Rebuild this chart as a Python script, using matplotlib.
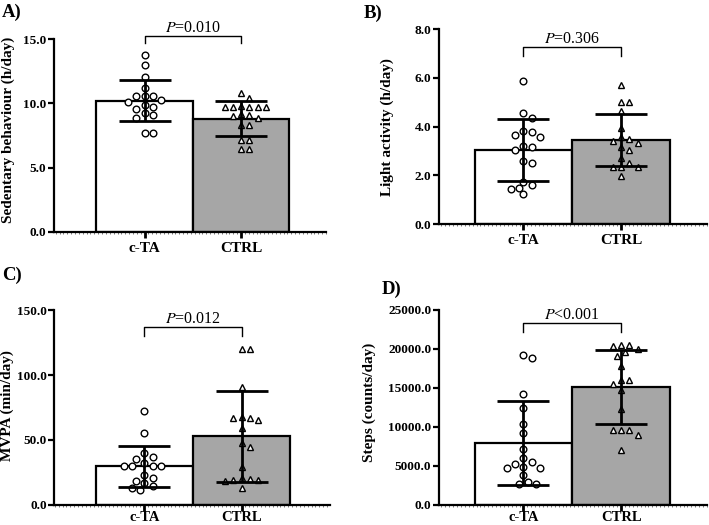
import numpy as np
import matplotlib
matplotlib.use("Agg")
import matplotlib.pyplot as plt
from matplotlib.ticker import MultipleLocator, FormatStrFormatter

plt.rcParams['font.family'] = ['Liberation Serif', 'DejaVu Serif']
plt.rcParams['mathtext.fontset'] = 'stix'

categories = ["c-TA", "CTRL"]

# Panel A: Sedentary behaviour (h/day)
a_cta = [13.73, 12.95, 12.02, 11.21, 10.59, 10.59, 10.59, 10.26, 10.13, 9.87, 9.74,
         9.56, 9.27, 9.09, 8.83, 7.67, 7.67]
a_ctrl = [10.82, 10.44, 9.79, 9.72, 9.72, 9.72, 9.72, 9.70, 9.20, 9.10, 9.05, 8.85,
          8.30, 8.30, 7.18, 7.18, 6.42, 6.42]
a_mean = [10.22, 8.81]
a_sd = [1.60, 1.35]

# Panel B: Light activity (h/day)
b_cta = [5.88, 4.55, 4.34, 3.81, 3.77, 3.66, 3.56, 3.22, 3.15, 3.04, 2.59, 2.49,
         1.74, 1.60, 1.49, 1.45, 1.23]
b_ctrl = [5.71, 5.00, 5.00, 4.64, 3.96, 3.59, 3.48, 3.42, 3.34, 3.18, 3.04, 2.73,
          2.52, 2.36, 2.36, 2.36, 1.97]
b_mean = [3.04, 3.46]
b_sd = [1.27, 1.08]

# Panel C: MVPA (min/day)
c_cta = [72.1, 55.3, 39.6, 37.0, 35.5, 31.9, 30.0, 29.5, 29.5, 30.0, 22.7, 20.4,
         18.5, 16.5, 14.4, 13.1, 11.1]
c_ctrl = [120.4, 120.4, 90.6, 68.0, 67.0, 67.0, 65.6, 59.0, 47.4, 44.8, 29.3, 19.5,
          20.5, 18.5, 19.0, 18.8, 12.9]
c_mean = [29.7, 52.9]
c_sd = [15.8, 35.1]

# Panel D: Steps (counts/day)
d_cta = [19190, 18760, 14190, 12360, 10345, 9230, 7180, 5950, 5435, 5220, 4870,
         4745, 4745, 3850, 2950, 2615, 2615]
d_ctrl = [20515, 20515, 20345, 19920, 19575, 19020, 17740, 15940, 15940, 15470,
          14660, 12310, 9530, 9530, 9530, 8890, 7050]
d_mean = [7865, 15087]
d_sd = [5385, 4744]

p_texts = ["=0.010", "=0.306", "=0.012", "<0.001"]
ylabels = ["Sedentary behaviour (h/day)", "Light activity (h/day)",
           "MVPA (min/day)", "Steps (counts/day)"]
panel_labels = ["A)", "B)", "C)", "D)"]

W, H = 709, 525
fig = plt.figure(figsize=(W / 100, H / 100), dpi=100)


def px_rect(x0, x1, ytop, ybot):
    return [x0 / W, 1 - ybot / H, (x1 - x0) / W, (ybot - ytop) / H]


panels = [
    dict(rect=px_rect(54, 326, 39, 232), xlim=(-0.938, 1.88), ylim=(0, 15), step=5,
         cta=a_cta, ctrl=a_ctrl, mean=a_mean, sd=a_sd,
         br=(15.27, 14.66), lab=(-0.143, 0.53), plab=(2, 12), xpad=3, xfs=11),
    dict(rect=px_rect(439, 707, 29.3, 224), xlim=(-0.865, 1.88), ylim=(0, 8), step=2,
         cta=b_cta, ctrl=b_ctrl, mean=b_mean, sd=b_sd,
         br=(7.26, 6.90), lab=(-0.168, 0.496), plab=(364, 13), xpad=3, xfs=11),
    dict(rect=px_rect(54.3, 330, 310.3, 504.7), xlim=(-0.925, 1.91), ylim=(0, 150), step=50,
         cta=c_cta, ctrl=c_ctrl, mean=c_mean, sd=c_sd,
         br=(136.9, 130.0), lab=(-0.145, 0.508), plab=(2, 275), xpad=0.5, xfs=10.5),
    dict(rect=px_rect(439, 707, 309.7, 504.7), xlim=(-0.865, 1.88), ylim=(0, 25000), step=5000,
         cta=d_cta, ctrl=d_ctrl, mean=d_mean, sd=d_sd,
         br=(23300, 22140), lab=(-0.235, 0.524), plab=(382, 289), xpad=0.5, xfs=10.5),
]


def swarm(ax, x0, vals, d):
    pts = ax.transData.transform([(x0, v) for v in vals])
    order = np.argsort(-np.asarray(vals))
    placed = []
    xs = np.zeros(len(vals))
    cx = pts[0, 0]
    for i in order:
        y = pts[i, 1]
        for k in [0, 1, -1, 2, -2, 3, -3, 4, -4, 5, -5, 6, -6]:
            x = cx + k * d * 0.55
            if all((x - px) ** 2 + (y - py) ** 2 >= (d * 0.98) ** 2 for px, py in placed):
                break
        placed.append((x, y))
        xs[i] = x
    inv = ax.transData.inverted()
    return [inv.transform((x, pts[0, 1]))[0] for x in xs]


for i, p in enumerate(panels):
    ax = fig.add_axes(p["rect"])
    ax.set_xlim(*p["xlim"])
    ax.set_ylim(*p["ylim"])
    x = np.arange(len(categories))
    ax.bar(x, p["mean"], width=1.0, color=["white", "#a6a6a6"], edgecolor="black",
           linewidth=1.6, zorder=1)
    d = 7.5 * fig.dpi / 100
    xs1 = swarm(ax, 0, p["cta"], d)
    xs2 = swarm(ax, 1, p["ctrl"], d)
    ax.plot(xs1, p["cta"], "o", ms=4.8, mfc="white", mec="black", mew=1.0,
            zorder=3, clip_on=False)
    ax.plot(xs2, p["ctrl"], "^", ms=4.8, mfc="white", mec="black", mew=1.0,
            zorder=3, clip_on=False)
    ax.errorbar(x, p["mean"], yerr=p["sd"], fmt="none", ecolor="black",
                elinewidth=2.0, capsize=19, capthick=2.0, zorder=4)
    # significance bracket
    top, low = p["br"]
    ax.plot([0, 0, 1, 1], [low, top, top, low], color="black", lw=1.0,
            clip_on=False, zorder=5)
    ax.text(0.5, top, r"$\mathit{P}$" + p_texts[i], ha="center", va="bottom",
            fontsize=11.5, transform=ax.transData)
    # axes styling
    for s in ["top", "right"]:
        ax.spines[s].set_visible(False)
    for s in ["left", "bottom"]:
        ax.spines[s].set_linewidth(1.6)
    ax.yaxis.set_major_locator(MultipleLocator(p["step"]))
    ax.yaxis.set_major_formatter(FormatStrFormatter("%.1f"))
    ax.set_xticks(x)
    ax.set_xticklabels(categories, fontsize=p["xfs"], fontweight="bold")
    ax.xaxis.set_minor_locator(MultipleLocator(0.04))
    ax.tick_params(axis="x", which="major", length=4, width=2, pad=p["xpad"])
    ax.tick_params(axis="x", which="minor", length=1.5, width=0.5, color="#444444")
    ax.tick_params(axis="y", which="major", length=4, width=1.6, pad=1.5, labelsize=9.5)
    for t in ax.get_yticklabels():
        t.set_fontweight("bold")
    ax.set_ylabel(ylabels[i], fontsize=11, fontweight="bold")
    ax.yaxis.set_label_coords(*p["lab"])
    fig.text(p["plab"][0] / W, 1 - p["plab"][1] / H, panel_labels[i], fontsize=13.5,
             fontweight="bold", ha="left", va="center")

fig.savefig("out.png", dpi=100)
